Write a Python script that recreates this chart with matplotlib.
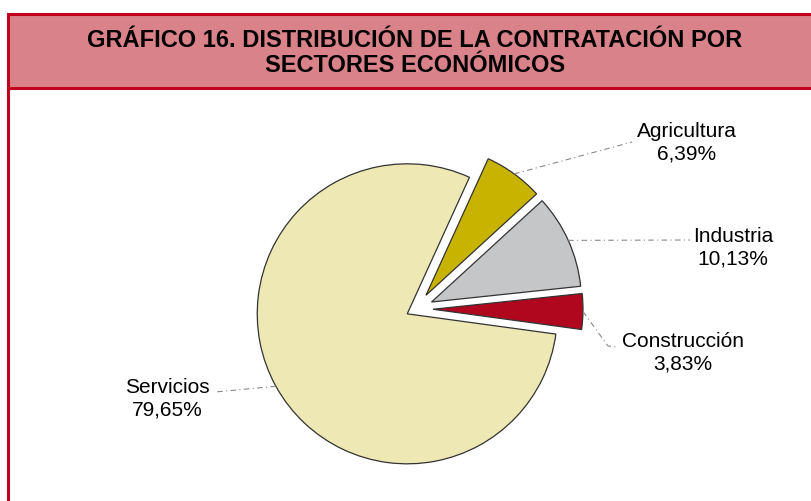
import numpy as np
import matplotlib
matplotlib.use("Agg")
import matplotlib.pyplot as plt
from matplotlib.patches import Rectangle

plt.rcParams['font.family'] = ['Liberation Sans', 'DejaVu Sans']

sectores = ["Agricultura", "Industria", "Construcción", "Servicios"]
porcentajes = [6.39, 10.13, 3.83, 79.65]
etiquetas = ["6,39%", "10,13%", "3,83%", "79,65%"]
colores = ["#C8B400", "#C5C6C8", "#B0061E", "#EEE8B5"]
separacion = [17, 17, 17, 10]

titulo = "GRÁFICO 16. DISTRIBUCIÓN DE LA CONTRATACIÓN POR\nSECTORES ECONÓMICOS"

W, H = 811, 502
fig = plt.figure(figsize=(W / 100, H / 100), dpi=100)
ax = fig.add_axes([0, 0, 1, 1])

def Y(y):
    return H - y

borde = "#C0001C"
# title band and frame
ax.add_patch(Rectangle((8, Y(89)), W, 74, facecolor="#D9828A", edgecolor="none", zorder=1))
ax.plot([8, 8], [Y(15), 0], color=borde, lw=2.2, zorder=2)
ax.plot([8, W], [Y(15), Y(15)], color=borde, lw=2.2, zorder=2)
ax.plot([8, W], [Y(89), Y(89)], color=borde, lw=2.2, zorder=2)
ax.text(415, Y(53), titulo, ha="center", va="center", fontsize=17,
        fontweight="bold", linespacing=1.12, zorder=3)

R = 150
wedges, _ = ax.pie(porcentajes, explode=separacion, colors=colores, radius=R,
                   center=(416, Y(310)), startangle=65.5, counterclock=False,
                   wedgeprops=dict(edgecolor="#333333", linewidth=0.9))

# label positions (pixel, image coords) and leader bends
pos_texto = [(687, 143), (733, 248), (683, 353), (167, 399)]
guias = [[(632, 143)], [(690, 241)], [(608, 347), (617, 348)], [(215, 393)]]

for w, nombre, pct, (tx, ty), g in zip(wedges, sectores, etiquetas, pos_texto, guias):
    tm = np.deg2rad(0.5 * (w.theta1 + w.theta2))
    cx, cy = w.center
    xs = [cx + R * np.cos(tm)] + [p[0] for p in g]
    ys = [cy + R * np.sin(tm)] + [Y(p[1]) for p in g]
    ax.plot(xs, ys, color="#8A8A8A", lw=0.8, linestyle=(0, (5, 3, 1, 3)), zorder=4)
    ax.text(tx, Y(ty), nombre + "\n" + pct, ha="center", va="center",
            fontsize=15, linespacing=1.25, zorder=5)

ax.set_xlim(0, W)
ax.set_ylim(0, H)
ax.set_aspect("auto")
ax.axis("off")
fig.savefig("out.png", dpi=100)
